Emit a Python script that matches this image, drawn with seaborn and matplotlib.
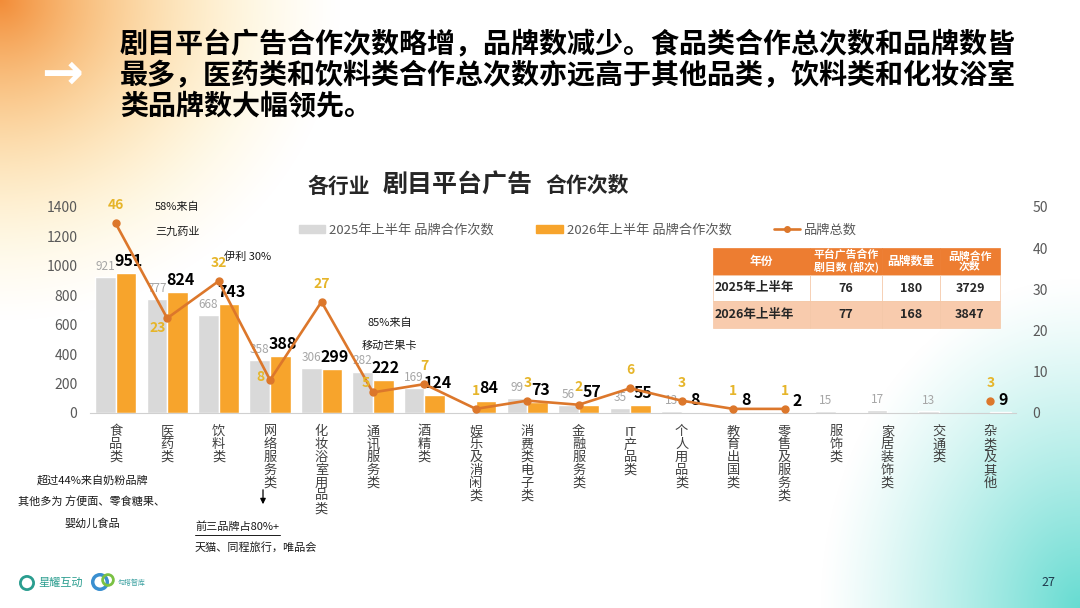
import numpy as np
import pandas as pd
import matplotlib
matplotlib.use('Agg')
import matplotlib.pyplot as plt
import seaborn as sns
from matplotlib.patches import Patch
from matplotlib.lines import Line2D

# Data
categories = ['食品类', '医药类', '饮料类', '网络服务类', '化妆浴室用品类', '通讯服务类', '酒精类',
              '娱乐及消闲类', '消费类电子类', '金融服务类', 'IT产品类', '个人用品类', '教育出国类',
              '零售及服务类', '服饰类', '家居装饰类', '交通类', '杂类及其他']
coop_2025 = [921, 777, 668, 358, 306, 282, 169, np.nan, 99, 56, 35, 13, np.nan, np.nan, 15, 17, 13, np.nan]
coop_2026 = [951, 824, 743, 388, 299, 222, 124, 84, 73, 57, 55, 8, 8, 2, np.nan, np.nan, np.nan, 9]
brand_total = [46, 23, 32, 8, 27, 5, 7, 1, 3, 2, 6, 3, 1, 1, np.nan, np.nan, np.nan, 3]
period_labels = ['2025年上半年 品牌合作次数', '2026年上半年 品牌合作次数']
brand_label = '品牌总数'

table_cols = ['年份', '平台广告合作\n剧目数 (部次)', '品牌数量', '品牌合作\n次数']
table_years = ['2025年上半年', '2026年上半年']
table_dramas = [76, 77]
table_brands = [180, 168]
table_coops = [3729, 3847]

GRAY = '#d9d9d9'
ORANGE = '#f7a42c'
LINE = '#dc772b'
GOLD = '#e6b52a'

sns.set_style('white')
plt.rcParams['font.family'] = ['Noto Sans CJK SC', 'DejaVu Sans']
plt.rcParams['axes.unicode_minus'] = False

fig = plt.figure(figsize=(10.8, 6.08), dpi=100)

# background gradients
bg = fig.add_axes([0, 0, 1, 1], zorder=-5)
yy, xx = np.mgrid[0:608, 0:1080]
img = np.ones((608, 1080, 3))
d1 = np.sqrt((xx / 340.0) ** 2 + (yy / 320.0) ** 2)
a1 = np.clip(1 - d1, 0, 1) ** 1.2
c1 = np.array([0.95, 0.55, 0.22])
c1b = np.array([1.0, 0.86, 0.45])
mix = np.clip(d1 / 0.8, 0, 1)[..., None]
col1 = c1 * (1 - mix) + c1b * mix
img = img * (1 - a1[..., None]) + col1 * a1[..., None]
d2 = np.sqrt(((1080 - xx) / 260.0) ** 2 + ((608 - yy) / 330.0) ** 2)
a2 = np.clip(1 - d2, 0, 1) ** 1.2
col2 = np.array([0.40, 0.86, 0.82])
img = img * (1 - a2[..., None]) + col2 * a2[..., None]
bg.imshow(img, extent=[0, 1080, 608, 0], aspect='auto')
bg.set_xlim(0, 1080)
bg.set_ylim(608, 0)
bg.axis('off')

# main chart
ax = fig.add_axes([90 / 1080, 1 - 413 / 608, 926 / 1080, 206 / 608])
ax.patch.set_alpha(0)
df = pd.DataFrame({
    '行业': categories * 2,
    '次数': coop_2025 + coop_2026,
    '期间': [period_labels[0]] * len(categories) + [period_labels[1]] * len(categories),
})
sns.barplot(data=df, x='行业', y='次数', hue='期间', order=categories, hue_order=period_labels,
            palette=[GRAY, ORANGE], width=0.8, saturation=1, legend=False, ax=ax)
ax.set_xlim(-0.5, len(categories) - 0.5)
ax.set_ylim(0, 1400)
ax.set_yticks(range(0, 1401, 200))
ax.set_xlabel('')
ax.set_ylabel('')
ax.set_xticks(range(len(categories)))
ax.set_xticklabels(['\n'.join(['IT'] + list(c[2:])) if c.startswith('IT') else '\n'.join(c)
                    for c in categories], fontsize=9.5, color='#404040', linespacing=0.98, va='top')
ax.tick_params(axis='x', length=0, pad=9)
ax.set_xticks(np.arange(-0.5, len(categories), 1), minor=True)
ax.tick_params(axis='x', which='minor', length=5, color='#d0d0d0', width=0.8)
ax.tick_params(axis='y', length=0, labelsize=10, labelcolor='#595959', pad=9)
for s in ['top', 'left', 'right']:
    ax.spines[s].set_visible(False)
ax.spines['bottom'].set_color('#d0d0d0')

for bar in ax.containers[0]:
    h = bar.get_height()
    if np.isfinite(h) and h > 0:
        ax.annotate(f'{h:.0f}', (bar.get_x() + bar.get_width() / 2, h), xytext=(0, 3),
                    textcoords='offset points', ha='center', va='bottom', fontsize=8.5,
                    color='#a6a6a6', clip_on=False)
for bar in ax.containers[1]:
    h = bar.get_height()
    if np.isfinite(h) and h > 0:
        ax.annotate(f'{h:.0f}', (bar.get_x() + bar.get_width() / 2, h), xytext=(2, 3),
                    textcoords='offset points', ha='center', va='bottom', fontsize=11.5,
                    fontweight='bold', color='black', clip_on=False)

ax2 = ax.twinx()
ax2.patch.set_alpha(0)
xs = np.arange(len(categories))
ax2.plot(xs, brand_total, color=LINE, lw=1.9, marker='o', markersize=5, zorder=5)
ax2.set_ylim(0, 50)
ax2.set_yticks(range(0, 51, 10))
ax2.tick_params(axis='y', length=0, labelsize=10, labelcolor='#595959', pad=12)
for s in ['top', 'left', 'right', 'bottom']:
    ax2.spines[s].set_visible(False)
brand_offsets = {1: (-7, -7), 3: (-7, 2), 5: (-5, 7)}
for i, v in enumerate(brand_total):
    if np.isfinite(v):
        off = brand_offsets.get(i, (0, 13))
        ax2.annotate(f'{v:.0f}', (i, v), xytext=off, textcoords='offset points', ha='center',
                     va='center', fontsize=10, fontweight='bold', color=GOLD, clip_on=False, zorder=6)

# legend
handles = [Patch(color=GRAY), Patch(color=ORANGE),
           Line2D([0], [0], color=LINE, lw=1.9, marker='o', markersize=4)]
fig.legend(handles, period_labels + [brand_label], loc='center', ncol=3,
           bbox_to_anchor=(578 / 1080, 1 - 230 / 608), frameon=False, fontsize=9.5,
           labelcolor='#595959', columnspacing=3.2, handlelength=2.0, handleheight=0.6,
           handletextpad=0.3)

# summary table
ax_t = fig.add_axes([713 / 1080, 1 - 328 / 608, 287 / 1080, 80 / 608])
ax_t.axis('off')
cell_text = [[y, str(d), str(b), str(c)] for y, d, b, c in
             zip(table_years, table_dramas, table_brands, table_coops)]
widths = np.array([97, 72, 58, 60], dtype=float)
tbl = ax_t.table(cellText=cell_text, colLabels=table_cols, bbox=[0, 0, 1, 1],
                 colWidths=list(widths / widths.sum()), cellLoc='center')
tbl.auto_set_font_size(False)
for (r, c), cell in tbl.get_celld().items():
    cell.set_edgecolor('#f4c7a6')
    cell.set_linewidth(0.5)
    txt = cell.get_text()
    txt.set_fontweight('bold')
    if r == 0:
        cell.set_facecolor('#ed7d31')
        cell.set_edgecolor('#ed7d31')
        txt.set_color('white')
        txt.set_fontsize(7.8 if c in (1, 3) else 8.5)
        txt.set_linespacing(1.0)
    else:
        cell.set_facecolor('white' if r == 1 else '#f8cbad')
        txt.set_color('#262626')
        txt.set_fontsize(9)
        if c == 0:
            txt.set_ha('left')
            cell.PAD = 0.02
            cell._loc = 'left'

# text overlay (pixel coordinates)
ov = fig.add_axes([0, 0, 1, 1], zorder=10)
ov.set_xlim(0, 1080)
ov.set_ylim(608, 0)
ov.axis('off')
ov.patch.set_alpha(0)

title_lines = ['剧目平台广告合作次数略增，品牌数减少。食品类合作总次数和品牌数皆',
               '最多，医药类和饮料类合作总次数亦远高于其他品类，饮料类和化妆浴室',
               '类品牌数大幅领先。']
for k, line in enumerate(title_lines):
    ov.text(120, 45 + k * 31, line, fontsize=20.2, fontweight='bold', color='black',
            ha='left', va='center')
ov.text(62, 75, '→', fontsize=36, color='white', fontweight='bold', ha='center', va='center',
        family='DejaVu Sans')

ov.text(308, 186, '各行业', fontsize=15, fontweight='bold', ha='left', va='center')
ov.text(383, 185, '剧目平台广告', fontsize=18, fontweight='bold', ha='left', va='center')
ov.text(545, 186, '合作次数', fontsize=15, fontweight='bold', ha='left', va='center')

note_kw = dict(fontsize=8, color='#1a1a1a', va='center')
ov.text(155, 207, '58%来自', ha='left', **note_kw)
ov.text(155, 232, '三九药业', ha='left', **note_kw)
ov.text(224, 257, '伊利 30%', ha='left', **note_kw)
ov.text(368, 323, '85%来自', ha='left', **note_kw)
ov.text(362, 346, '移动芒果卡', ha='left', **note_kw)
ov.text(92, 480, '超过44%来自奶粉品牌', ha='center', **note_kw)
ov.text(92, 502, '其他多为 方便面、零食糖果、', ha='center', **note_kw)
ov.text(92, 523, '婴幼儿食品', ha='center', **note_kw)
ov.annotate('', xy=(263, 507), xytext=(263, 487),
            arrowprops=dict(arrowstyle='-|>', color='black', lw=0.9, mutation_scale=8))
ov.text(195, 527, '前三品牌占80%+', ha='left', **note_kw)
ov.plot([195, 280], [535, 535], color='#1a1a1a', lw=0.7)
ov.text(195, 547, '天猫、同程旅行，唯品会', ha='left', **note_kw)

ov.text(1048, 583, '27', fontsize=9, color='#1f3b4d', ha='center', va='center')
ov.scatter([27], [583], s=90, facecolors='none', edgecolors='#2a9d8f', linewidths=2)
ov.text(38, 583, '星耀互动', fontsize=8, color='#2a9d8f', ha='left', va='center')
ov.scatter([100], [582], s=110, facecolors='none', edgecolors='#3a8fd0', linewidths=2.5)
ov.scatter([108], [580], s=60, facecolors='none', edgecolors='#7ac143', linewidths=2)
ov.text(118, 583, '勾搭智库', fontsize=5, color='#3aa0a0', ha='left', va='center')

fig.savefig('out.png', dpi=100)
